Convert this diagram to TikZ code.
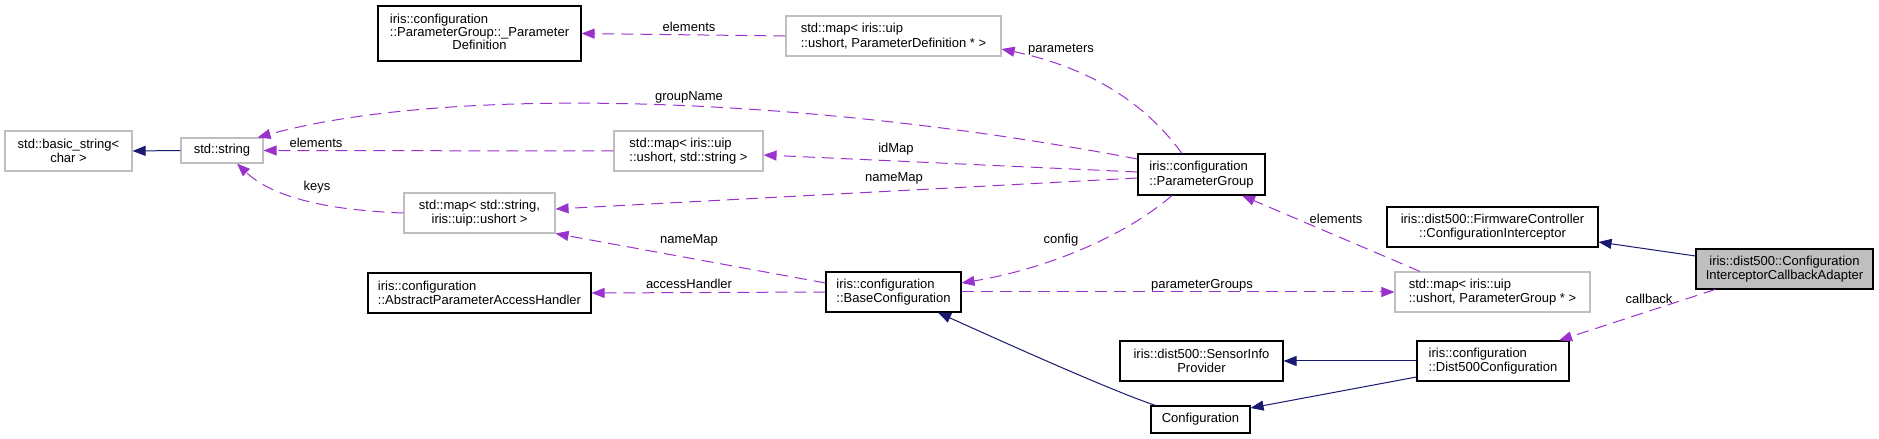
\documentclass[tikz,border=0pt]{standalone}
\usepackage{fontspec}
\setmainfont{Liberation Sans}
\usetikzlibrary{arrows.meta,calc}
\definecolor{edgeP}{HTML}{9A32CD}
\definecolor{edgeN}{HTML}{191970}
\definecolor{grayB}{HTML}{BFBFBF}
\tikzset{
 box/.style={draw=black, line width=1.1bp, rectangle, inner sep=0pt, font=\fontsize{13bp}{14.3bp}\selectfont},
 ubox/.style={box, draw=grayB, line width=1.1bp},
 usage/.style={draw=edgeP, line width=1bp, dash pattern=on 12bp off 7bp, -{Triangle[length=13bp,width=10bp]}},
 inherit/.style={draw=edgeN, line width=1bp, -{Triangle[length=13bp,width=10bp]}},
 lbl/.style={anchor=base, inner sep=0pt, font=\fontsize{13bp}{14.3bp}\selectfont},
}
\begin{document}
\begin{tikzpicture}[x=1bp,y=-1bp]
\useasboundingbox (0,0) rectangle (1879,439);
% nodes
\node[box, minimum width=203bp, minimum height=55bp] (pdef) at (479.5,33.5)
 {\begin{tabular}{@{}l@{}}iris::configuration\\[-1.5pt]::ParameterGroup::\_Parameter\\[-1.5pt]\multicolumn{1}{@{}c@{}}{Definition}\end{tabular}};
\node[ubox, minimum width=215bp, minimum height=40bp, align=left] (mpd) at (893.5,36)
 {std::map< iris::uip\\::ushort, ParameterDefinition * >};
\node[ubox, minimum width=127bp, minimum height=40bp, align=center] (bstr) at (68.5,151)
 {std::basic\_string<\\char >};
\node[ubox, minimum width=82bp, minimum height=25bp] (str) at (222,150.5) {std::string};
\node[ubox, minimum width=149bp, minimum height=40bp, align=left] (mus) at (688.5,151)
 {std::map< iris::uip\\::ushort, std::string >};
\node[box, minimum width=127bp, minimum height=41bp, align=left] (pg) at (1201.5,174.5)
 {iris::configuration\\::ParameterGroup};
\node[ubox, minimum width=151bp, minimum height=40bp, align=center] (msu) at (479.5,213)
 {std::map< std::string,\\iris::uip::ushort >};
\node[box, minimum width=223bp, minimum height=40bp, align=left] (aph) at (479.5,293)
 {iris::configuration\\::AbstractParameterAccessHandler};
\node[box, minimum width=135bp, minimum height=40bp, align=left] (bc) at (893.5,292)
 {iris::configuration\\::BaseConfiguration};
\node[box, minimum width=211bp, minimum height=40bp, align=center] (fci) at (1492.5,227)
 {iris::dist500::FirmwareController\\::ConfigurationInterceptor};
\node[box, fill=grayB, minimum width=177bp, minimum height=40bp, align=center] (cica) at (1784.5,269)
 {iris::dist500::Configuration\\InterceptorCallbackAdapter};
\node[ubox, minimum width=195bp, minimum height=40bp, align=left] (mpg) at (1492.5,292)
 {std::map< iris::uip\\::ushort, ParameterGroup * >};
\node[box, minimum width=163bp, minimum height=40bp, align=center] (sip) at (1201.5,361)
 {iris::dist500::SensorInfo\\Provider};
\node[box, minimum width=152bp, minimum height=40bp, align=left] (d5c) at (1493,361)
 {iris::configuration\\::Dist500Configuration};
\node[box, minimum width=99bp, minimum height=27bp] (cfg) at (1200.5,419.5) {Configuration};
% edges
\draw[inherit] (str.west) -- (bstr.east);
\draw[usage] (mus.west) -- (str.east);
\draw[usage] (msu.west) .. controls (320,210) and (270,195) .. ($(str.south)+(15,0)$);
\draw[usage] ($(pg.west)+(0,-15.5)$) .. controls (800,95) and (450,85) .. ($(str.north east)+(-6,0)$);
\draw[usage] ($(pg.west)+(0,-2.5)$) -- ($(mus.east)+(0,4)$);
\draw[usage] ($(pg.west)+(0,3.5)$) -- ($(msu.east)+(0,-4)$);
\draw[usage] ($(pg.north)+(-19.5,0)$) .. controls (1150,110) and (1100,70) .. ($(mpd.east)+(0,13)$);
\draw[usage] (mpd.west) -- (pdef.east);
\draw[usage] ($(bc.west)+(0,-9)$) -- (msu.south east);
\draw[usage] (bc.west) -- (aph.east);
\draw[usage] ($(pg.south)+(-29.5,0)$) .. controls (1120,240) and (1040,270) .. ($(bc.east)+(0,-9)$);
\draw[usage] (bc.east) -- (mpg.west);
\draw[usage] ($(mpg.north)+(-72.5,0)$) -- ($(pg.south)+(40.5,0)$);
\draw[inherit] ($(cfg.north west)+(5,0)$) .. controls (1110,390) and (1010,345) .. ($(bc.south)+(44.5,0)$);
\draw[inherit] (d5c.west) -- (sip.east);
\draw[inherit] ($(d5c.west)+(0,16)$) -- ($(cfg.east)+(0,-11.5)$);
\draw[inherit] ($(cica.west)+(0,-13)$) -- ($(fci.east)+(0,15)$);
\draw[usage] ($(cica.south)+(-69.5,0)$) -- ($(d5c.north)+(66,0)$);
% labels
\node[lbl] (t1) at (689,31.7) {elements};
\node[lbl] (t2) at (689,100.7) {groupName};
\node[lbl] (t3) at (316,147.7) {elements};
\node[lbl] (t4) at (317,191) {keys};
\node[lbl] (t5) at (896,152.3) {idMap};
\node[lbl] (t6) at (894,181.7) {nameMap};
\node[lbl] (t7) at (689,243.3) {nameMap};
\node[lbl] (t8) at (689,288.3) {accessHandler};
\node[lbl] (t9) at (1061,52.7) {parameters};
\node[lbl] (t10) at (1061,243.3) {config};
\node[lbl] (t11) at (1336,223.3) {elements};
\node[lbl] (t12) at (1202,288.7) {parameterGroups};
\node[lbl] (t13) at (1649,303.3) {callback};
\end{tikzpicture}
\end{document}
